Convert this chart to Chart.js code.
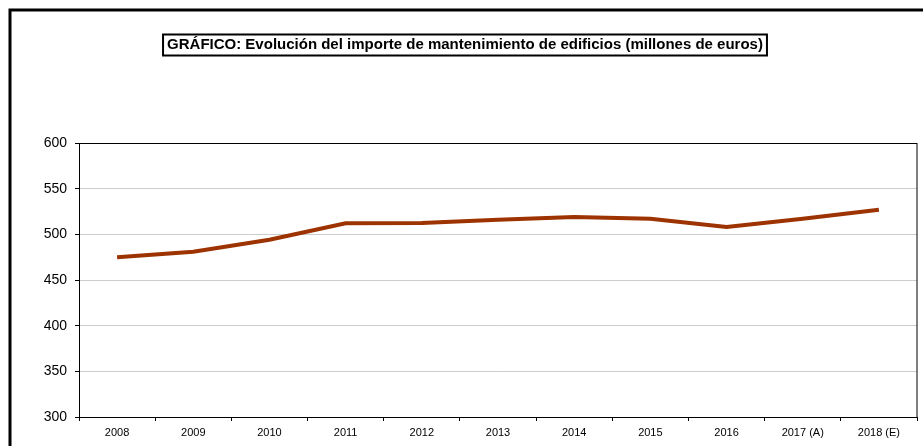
<!DOCTYPE html>
<html>
<head>
<meta charset="utf-8">
<script src="https://cdn.jsdelivr.net/npm/chart.js@4"></script>
<style>
  body { margin: 0; background: #fff; }
  #wrap { width: 923px; height: 446px; }
</style>
</head>
<body>
<div id="wrap"><canvas id="grafica" width="923" height="446"></canvas></div>
<script>
const titulo = 'GRÁFICO: Evolución del importe de mantenimiento de edificios (millones de euros)';
const anios = ['2008', '2009', '2010', '2011', '2012', '2013', '2014', '2015', '2016', '2017 (A)', '2018 (E)'];
const importes = [475, 481, 494, 512, 512.5, 516, 519, 517, 508, 517, 527];
const ejeMin = 300;
const ejeMax = 600;
const paso = 50;

// marco exterior, caja del titulo y borde del area de trazado
const marcos = {
    id: 'marcos',
    afterDraw(chart) {
        const ctx = chart.ctx;
        const a = chart.chartArea;
        ctx.save();
        ctx.strokeStyle = '#000';
        ctx.lineWidth = 3;
        ctx.strokeRect(10, 10, 940, 460);

        ctx.font = 'bold 15px "Liberation Sans", Arial, sans-serif';
        ctx.textAlign = 'center';
        ctx.textBaseline = 'middle';
        ctx.fillStyle = '#000';
        const cx = 465, cy = 45;
        const w = ctx.measureText(titulo).width;
        ctx.lineWidth = 2;
        ctx.strokeRect(cx - w / 2 - 4, cy - 10.5, w + 8, 21);
        ctx.fillText(titulo, cx, cy);

        ctx.lineWidth = 1;
        ctx.strokeRect(a.left + 0.5, a.top + 0.5, a.right - a.left - 0.5, a.bottom - a.top);
        ctx.restore();
    }
};

new Chart(document.getElementById('grafica'), {
    type: 'line',
    data: {
        labels: anios,
        datasets: [{
            data: importes,
            borderColor: '#9c3300',
            borderWidth: 4,
            pointRadius: 0,
            tension: 0
        }]
    },
    options: {
        responsive: false,
        animation: false,
        layout: { padding: { top: 143, right: 6, left: 0, bottom: 0 } },
        plugins: {
            legend: { display: false },
            title: { display: false },
            tooltip: { enabled: false }
        },
        scales: {
            x: {
                offset: true,
                grid: { offset: true, drawOnChartArea: false, tickLength: 4, tickColor: '#000' },
                border: { color: '#000', width: 1 },
                ticks: {
                    padding: 5,
                    color: '#000',
                    maxRotation: 0,
                    font: { family: '"Liberation Sans", Arial, sans-serif', size: 11 }
                },
                afterFit(scale) { scale.height = 29; }
            },
            y: {
                min: ejeMin,
                max: ejeMax,
                grid: { color: '#cccccc', tickLength: 4, tickColor: '#000' },
                border: { color: '#000', width: 1 },
                ticks: {
                    stepSize: paso,
                    padding: 8,
                    color: '#000',
                    font: { family: '"Liberation Sans", Arial, sans-serif', size: 14 }
                },
                afterFit(scale) { scale.width = 79; }
            }
        }
    },
    plugins: [marcos]
});
</script>
</body>
</html>
